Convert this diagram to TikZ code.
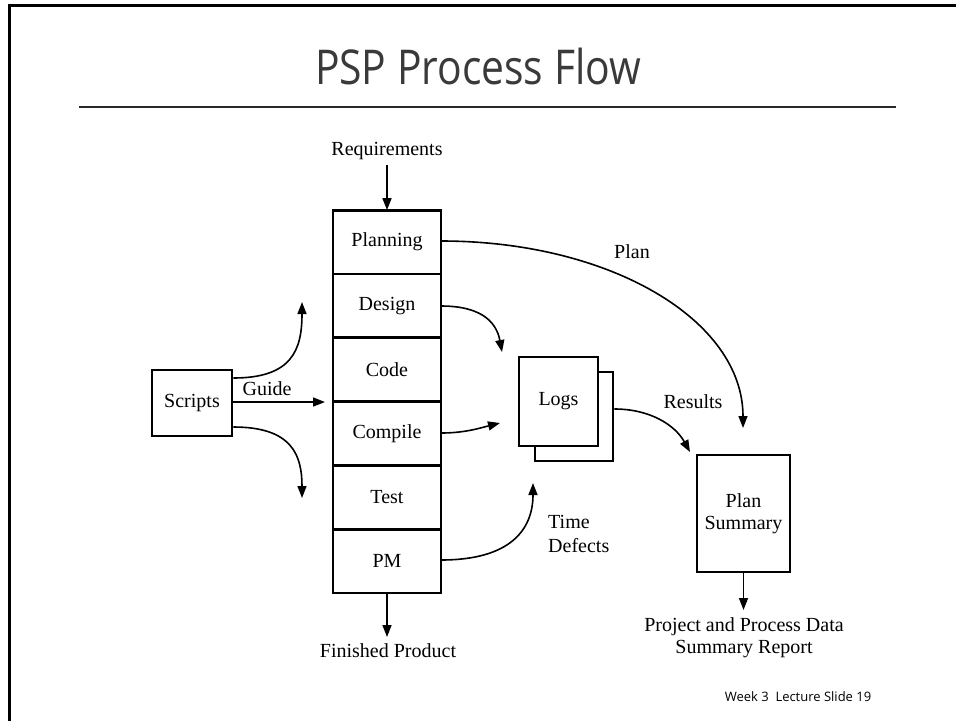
\documentclass[tikz,border=0pt]{standalone}
\usepackage{fontspec}
\setmainfont{Liberation Serif}
\newfontfamily\titlefont[FakeStretch=0.85]{Open Sans}
\newfontfamily\footfont{Open Sans}
\usetikzlibrary{arrows.meta}
\definecolor{titlegray}{HTML}{3A3A3A}
\tikzset{
  stagebox/.style={draw, line width=2.8pt, minimum width=108pt, minimum height=63.8pt, inner sep=0pt, outer sep=0pt, font=\fontsize{20}{22}\selectfont},
  plainbox/.style={draw, line width=2.8pt, fill=white, inner sep=0pt, font=\fontsize{20}{22}\selectfont, align=center},
  lbl/.style={inner sep=0pt, font=\fontsize{20}{22}\selectfont, align=center},
  flow/.style={line width=1.6pt, -{Triangle[length=12pt,width=9pt]}},
}
\begin{document}
\begin{tikzpicture}[x=1pt,y=-1pt]
\useasboundingbox (0,0) rectangle (956,721);
\fill[white] (0,0) rectangle (956,721);
% slide frame (top and left edges)
\draw[line width=3pt] (9,721) -- (9,5) -- (956,5);
% title and rule
\node[inner sep=0pt, text=titlegray, font=\titlefont\fontsize{48}{52}\selectfont] (title) at (478,66) {PSP Process Flow};
\coordinate (ruleL) at (79,107);
\coordinate (ruleR) at (896,107);
\draw[line width=2.5pt, titlegray!70!black] (ruleL) -- (ruleR);

% process stages
\node[stagebox] (planning) at (387,242) {Planning};
\node[stagebox, anchor=north] (design) at (planning.south) {Design};
\node[stagebox, anchor=north] (code) at (design.south) {Code};
\node[stagebox, anchor=north] (compile) at (code.south) {Compile};
\node[stagebox, anchor=north] (test) at (compile.south) {Test};
\node[stagebox, anchor=north] (pm) at (test.south) {PM};

% inputs / outputs
\node[lbl] (req) at (387,151) {Requirements};
\coordinate (reqstart) at (387,165);
\draw[flow] (reqstart) -- (planning.north);
\node[lbl] (finished) at (388,651) {Finished Product};
\coordinate (finishedtip) at (387,637);
\draw[flow] (pm.south) -- (finishedtip);

% scripts
\node[plainbox, minimum width=80pt, minimum height=66pt] (scripts) at (192,403) {Scripts};
\coordinate (upTip) at (302,302);
\coordinate (downTip) at (302,498);
\draw[flow] (scripts.east |- 0,378) .. controls (292,378) and (302,350) .. (upTip);
\draw[flow] (scripts.east |- 0,427) .. controls (292,427) and (302,455) .. (downTip);
\coordinate (guidetip) at (325,402);
\draw[flow] (scripts.east |- guidetip) -- (guidetip);
\node[lbl] (guide) at (267,389) {Guide};

% logs (two stacked sheets)
\node[plainbox, minimum width=78pt, minimum height=89pt] (logsback) at (574,416.5) {};
\node[plainbox, minimum width=79pt, minimum height=89pt] (logs) at (558.5,401.5) {Logs};

% plan summary
\node[plainbox, minimum width=93pt, minimum height=117pt] (summary) at (743.5,513.5) {Plan\\Summary};
\node[lbl] (report) at (744,638) {Project and Process Data\\Summary Report};
\coordinate (reporttip) at (743.5,610);
\draw[flow] (summary.south) -- (reporttip);

% flows into logs and summary
\coordinate (plantip) at (743,428);
\coordinate (designtip) at (502,352);
\coordinate (compiletip) at (500,423);
\coordinate (pmtip) at (533,483);
\coordinate (resultstip) at (690,452);
\draw[flow] (planning.east |- 0,241) .. controls (610,241) and (743,320) .. (plantip);
\node[lbl] (planlbl) at (632,252) {Plan};
\draw[flow] (design.east |- 0,306) .. controls (485,306) and (497,325) .. (designtip);
\draw[flow] (compile.east |- 0,433) .. controls (465,433) and (480,428) .. (compiletip);
\draw[flow] (pm.east |- 0,560) .. controls (510,560) and (533,530) .. (pmtip);
\node[lbl, anchor=west] (timelbl) at (548,522) {Time};
\node[lbl, anchor=west] (defectslbl) at (548,546) {Defects};
\draw[flow] (logsback.east |- 0,409) .. controls (650,409) and (675,425) .. (resultstip);
\node[lbl] (results) at (693,402) {Results};

% footer
\node[inner sep=0pt, font=\footfont\fontsize{13}{15}\selectfont] (footer) at (798,697) {Week 3\ \ Lecture Slide 19};
\end{tikzpicture}
\end{document}
